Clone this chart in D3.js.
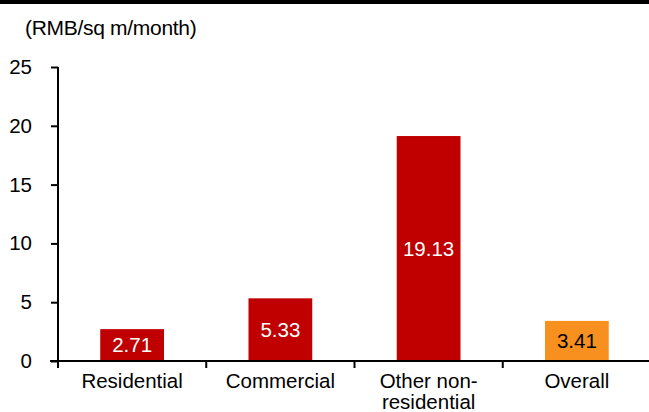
<!DOCTYPE html>
<html><head><meta charset="utf-8">
<script src="https://cdn.jsdelivr.net/npm/d3@7"></script>
<style>body{margin:0;background:#fff}svg{display:block}text{font-family:"Liberation Sans",Arial,sans-serif}</style>
</head><body>
<script>
const categories = ["Residential","Commercial","Other non-residential","Overall"];
const categoryLines = [["Residential"],["Commercial"],["Other non-","residential"],["Overall"]];
const values = [2.71, 5.33, 19.13, 3.41];
const barColors = ["#C00000","#C00000","#C00000","#F7901E"];
const labelColors = ["#fff","#fff","#fff","#000"];
const yTicks = [0,5,10,15,20,25];
const unitLabel = "(RMB/sq m/month)";

const W=649,H=412;
const svg=d3.select("body").append("svg").attr("width",W).attr("height",H);
svg.append("rect").attr("x",0).attr("y",0).attr("width",W).attr("height",4).attr("fill","#000");

const x=d3.scaleBand().domain(categories).range([58,651]).paddingInner(0.57).paddingOuter(0.285);
const y=d3.scaleLinear().domain([0,25]).range([361,67]);

svg.append("text").attr("x",25).attr("y",35).attr("font-size",21).attr("letter-spacing",-0.3).attr("fill","#000").text(unitLabel);

// y axis
const ya=svg.append("g").attr("transform","translate(58,0)")
  .call(d3.axisLeft(y).tickValues(yTicks).tickSize(7).tickPadding(19));
ya.select(".domain").attr("stroke","#000").attr("stroke-width",2).attr("d","M0,"+y(25)+"V"+y(0));
ya.selectAll(".tick line").attr("stroke","#000").attr("stroke-width",2);
ya.selectAll(".tick text").attr("font-size",20.5).attr("fill","#000").attr("font-family","Liberation Sans, Arial, sans-serif");

// bars
svg.selectAll("rect.bar").data(values).join("rect").attr("class","bar")
  .attr("x",(d,i)=>x(categories[i])).attr("width",x.bandwidth())
  .attr("y",d=>y(d)).attr("height",d=>y(0)-y(d))
  .attr("fill",(d,i)=>barColors[i]);

svg.selectAll("text.val").data(values).join("text").attr("class","val")
  .attr("x",(d,i)=>x(categories[i])+x.bandwidth()/2)
  .attr("y",d=>(y(d)+y(0))/2).attr("dy","0.36em")
  .attr("text-anchor","middle").attr("font-size",20.5)
  .attr("fill",(d,i)=>labelColors[i]).text(d=>d.toFixed(2));

// x axis
const step=x.step();
svg.append("line").attr("x1",50).attr("x2",W).attr("y1",y(0)).attr("y2",y(0)).attr("stroke","#000").attr("stroke-width",2);
const bounds=[58,58+step,58+2*step,58+3*step];
svg.selectAll("line.xt").data(bounds).join("line").attr("class","xt")
  .attr("x1",d=>d).attr("x2",d=>d).attr("y1",y(0)).attr("y2",y(0)+7).attr("stroke","#000").attr("stroke-width",2);

const cl=svg.selectAll("text.cat").data(categoryLines).join("text").attr("class","cat")
  .attr("x",(d,i)=>x(categories[i])+x.bandwidth()/2).attr("y",388)
  .attr("text-anchor","middle").attr("font-size",20.5).attr("fill","#000");
cl.selectAll("tspan").data((d,i)=>d.map(t=>({t,cx:x(categories[i])+x.bandwidth()/2}))).join("tspan")
  .attr("x",d=>d.cx).attr("dy",(d,j)=>j?21:0).text(d=>d.t);
</script>
</body></html>
